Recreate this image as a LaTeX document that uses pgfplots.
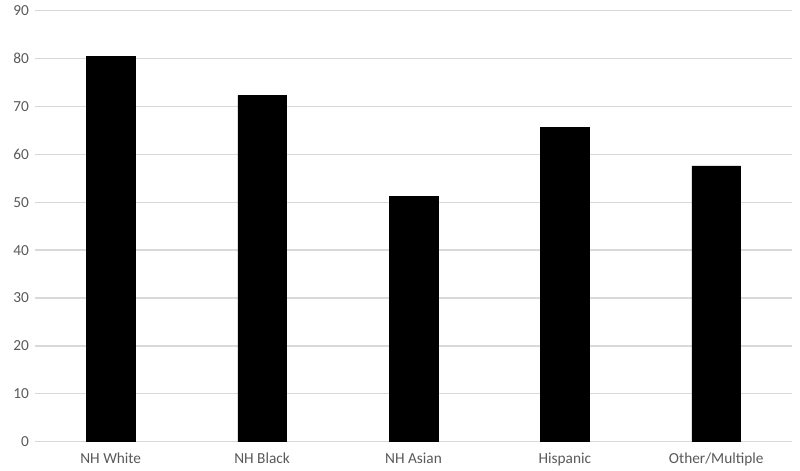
\documentclass[border=0pt]{standalone}
\usepackage{fontspec}
\setmainfont{Carlito}
\usepackage{pgfplots}
\pgfplotsset{compat=1.18}
\definecolor{gridgray}{HTML}{D9D9D9}
\definecolor{labelgray}{HTML}{595959}
\begin{document}
\begin{tikzpicture}
\useasboundingbox (-26.25pt,-22pt) rectangle (573.75pt,331.25pt);
\begin{axis}[
    at={(0,0)}, anchor=south west,
    scale only axis,
    width=567.75pt,
    height=323.25pt,
    xmin=-0.5, xmax=4.5,
    ymin=0, ymax=90,
    ytick distance=10,
    xtick=data,
    xticklabels={NH White, NH Black, NH Asian, Hispanic, Other/Multiple},
    major tick length=0pt,
    axis line style={draw=none},
    ymajorgrids,
    grid style={draw=gridgray, line width=1pt},
    tick label style={font=\fontsize{11.5}{13}\selectfont, text=labelgray},
    xticklabel style={yshift=-5pt},
    yticklabel style={xshift=-1pt},
    /pgf/number format/assume math mode=true,
]
\addplot[ybar, bar width=36.5pt, fill=black, draw=black] coordinates {
    (0, 80.4) (1, 72.3) (2, 51.2) (3, 65.6) (4, 57.6)
};
\end{axis}
\end{tikzpicture}
\end{document}
